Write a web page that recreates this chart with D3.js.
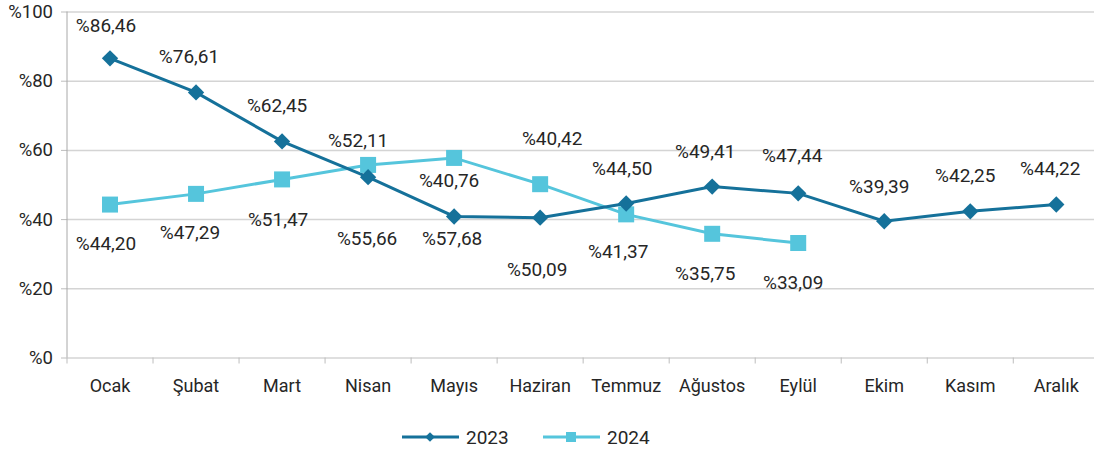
<!DOCTYPE html>
<html>
<head>
<meta charset="utf-8">
<script src="https://cdn.jsdelivr.net/npm/d3@7"></script>
<style>
body { margin: 0; background: #fff; }
text { font-family: Roboto, "Open Sans", sans-serif; fill: #262626; }
.axis path { display: none; }
</style>
</head>
<body>
<svg width="1094" height="449"></svg>
<script>
var months = ["Ocak", "Şubat", "Mart", "Nisan", "Mayıs", "Haziran", "Temmuz", "Ağustos", "Eylül", "Ekim", "Kasım", "Aralık"];
var values2023 = [86.46, 76.61, 62.45, 52.11, 40.76, 40.42, 44.50, 49.41, 47.44, 39.39, 42.25, 44.22];
var values2024 = [44.20, 47.29, 51.47, 55.66, 57.68, 50.09, 41.37, 35.75, 33.09];
var yTicks = [0, 20, 40, 60, 80, 100];
var seriesNames = ["2023", "2024"];

// hand placed label offsets (px from the point), like the original
var labelDy2023 = [-33, -36, -36, -37, -36, -80, -36, -36, -38, -35, -36, -36];
var labelDx2023 = [-4, -7, -5, -10, -5, 12, -4, -7, -6, -5, -5, -6];
var labelDy2024 = [38, 38, 40, 73, 80, 85, 37, 39, 39];
var labelDx2024 = [-4, -6, -4, -1, -2, -3, -8, -7, -5];

var svg = d3.select("svg");
var plotLeft = 67, plotRight = 1099.3, plotTop = 11.5, plotBottom = 357.5;

var xScale = d3.scaleBand().domain(months).range([plotLeft, plotRight]);
var yScale = d3.scaleLinear().domain([0, 100]).range([plotBottom, plotTop]);
var cx = function(i) { return xScale(months[i]) + xScale.bandwidth() / 2; };
var fmt = function(v) { return "%" + d3.format(".2f")(v).replace(".", ","); };

// gridlines
svg.append("g")
.attr("class", "axis")
.attr("transform", "translate(" + plotLeft + ",0)")
.call(d3.axisLeft(yScale).tickValues(yTicks).tickSize(-(1094 - plotLeft)).tickFormat(""))
.selectAll("line")
.attr("stroke", "#d4d4d4")
.attr("stroke-width", 1.5);

var yAxis = svg.append("g")
.attr("class", "axis")
.attr("transform", "translate(" + plotLeft + ",0)")
.call(d3.axisLeft(yScale).tickValues(yTicks).tickSize(6).tickPadding(8).tickFormat(function(d) { return "%" + d; }));
yAxis.selectAll("line").attr("stroke", "#bdbdbd");
yAxis.selectAll("text").style("font-size", "18.5px");

svg.append("line")
.attr("x1", plotLeft).attr("x2", plotLeft)
.attr("y1", plotTop).attr("y2", plotBottom)
.attr("stroke", "#a8a8a8")
.attr("stroke-width", 1);

// x ticks between categories
svg.selectAll(".xtick")
.data(months)
.enter()
.append("line")
.attr("class", "xtick")
.attr("x1", function(d) { return xScale(d); })
.attr("x2", function(d) { return xScale(d); })
.attr("y1", plotBottom)
.attr("y2", plotBottom + 6)
.attr("stroke", "#bdbdbd");

var xAxis = svg.append("g")
.attr("class", "axis")
.attr("transform", "translate(0," + plotBottom + ")")
.call(d3.axisBottom(xScale).tickSize(0).tickPadding(22));
xAxis.selectAll("text").style("font-size", "18px");

var line = d3.line()
.x(function(d, i) { return cx(i); })
.y(function(d) { return yScale(d); });

var color2023 = "#15719a", color2024 = "#55c5dc";

svg.append("path")
.datum(values2024)
.attr("d", line)
.attr("fill", "none")
.attr("stroke", color2024)
.attr("stroke-width", 3);

svg.append("path")
.datum(values2023)
.attr("d", line)
.attr("fill", "none")
.attr("stroke", color2023)
.attr("stroke-width", 3);

svg.selectAll(".sq")
.data(values2024)
.enter()
.append("rect")
.attr("class", "sq")
.attr("x", function(d, i) { return cx(i) - 8; })
.attr("y", function(d) { return yScale(d) - 8; })
.attr("width", 16)
.attr("height", 16)
.attr("fill", color2024);

svg.selectAll(".dm")
.data(values2023)
.enter()
.append("path")
.attr("class", "dm")
.attr("d", d3.symbol().type(d3.symbolDiamond2).size(170))
.attr("transform", function(d, i) { return "translate(" + cx(i) + "," + yScale(d) + ")"; })
.attr("fill", color2023);

svg.selectAll(".lb23")
.data(values2023)
.enter()
.append("text")
.attr("class", "lb23")
.attr("x", function(d, i) { return cx(i) + labelDx2023[i]; })
.attr("y", function(d, i) { return yScale(d) + labelDy2023[i] + 7; })
.attr("text-anchor", "middle")
.style("font-size", "19px")
.text(fmt);

svg.selectAll(".lb24")
.data(values2024)
.enter()
.append("text")
.attr("class", "lb24")
.attr("x", function(d, i) { return cx(i) + labelDx2024[i]; })
.attr("y", function(d, i) { return yScale(d) + labelDy2024[i] + 7; })
.attr("text-anchor", "middle")
.style("font-size", "19px")
.text(fmt);

// legend
var legend = svg.append("g").attr("transform", "translate(0,437)");
var lx = [402, 543];
legend.selectAll("line")
.data(seriesNames)
.enter()
.append("line")
.attr("x1", function(d, i) { return lx[i]; })
.attr("x2", function(d, i) { return lx[i] + 57; })
.attr("y1", 0).attr("y2", 0)
.attr("stroke", function(d, i) { return i == 0 ? color2023 : color2024; })
.attr("stroke-width", 3);
legend.append("path")
.attr("d", d3.symbol().type(d3.symbolDiamond2).size(60))
.attr("transform", "translate(" + (lx[0] + 28) + ",0)")
.attr("fill", color2023);
legend.append("rect")
.attr("x", lx[1] + 28 - 5).attr("y", -5)
.attr("width", 10).attr("height", 10)
.attr("fill", color2024);
legend.selectAll("text")
.data(seriesNames)
.enter()
.append("text")
.attr("x", function(d, i) { return lx[i] + 64; })
.attr("y", 7)
.style("font-size", "19px")
.text(function(d) { return d; });
</script>
</body>
</html>
